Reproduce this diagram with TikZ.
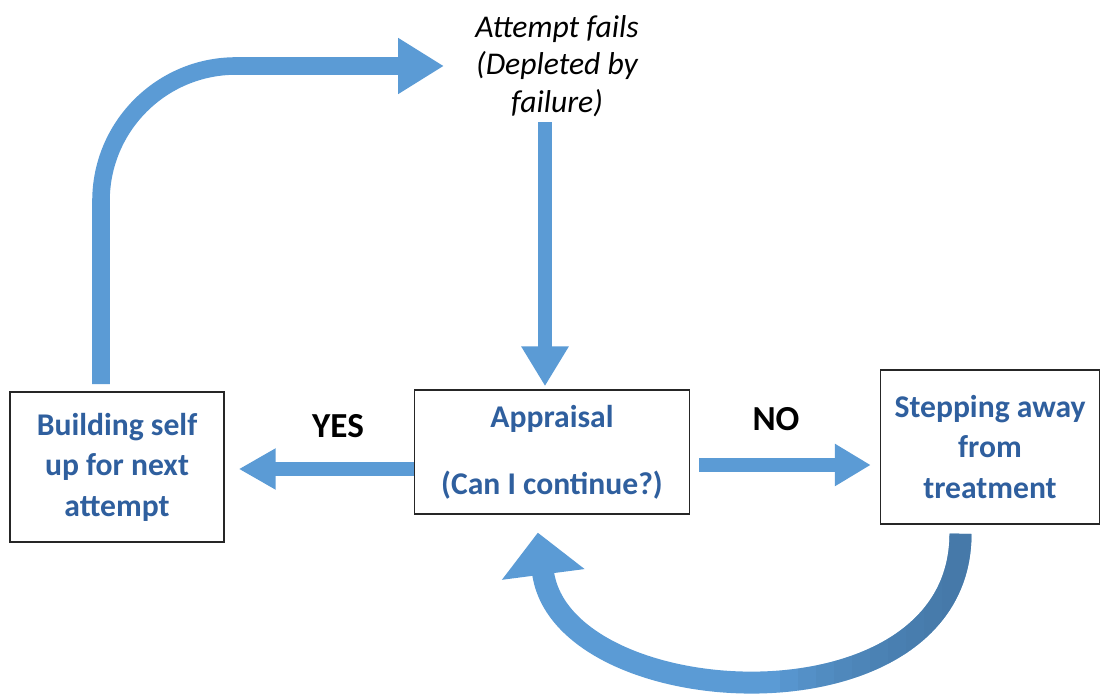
\documentclass[tikz,border=0pt]{standalone}
\usepackage{fontspec}
\setmainfont{Carlito}
\usetikzlibrary{arrows.meta,calc,positioning}
\definecolor{ArrowBlue}{HTML}{5B9BD5}
\definecolor{ArrowShade}{HTML}{41719C}
\definecolor{BoxText}{HTML}{2F5F9E}

\begin{document}
\begin{tikzpicture}[
  x=0.02cm,
  y=-0.02cm,
  stage box/.style={draw=black!85,line width=0.9pt,fill=white,align=center,
    inner sep=0pt,text=BoxText,font=\fontsize{18}{23}\selectfont\bfseries},
  fail text/.style={align=center,inner sep=0pt,
    font=\fontsize{18}{21.5}\selectfont\itshape},
  answer text/.style={font=\fontsize{20}{24}\selectfont\bfseries},
  block arrow/.style={draw=ArrowBlue,line width=8.5pt},
  return arrow/.style={line width=12.5pt,-{Triangle[length=24pt,width=46pt]},
    shorten <=0.18cm,shorten >=0.36cm},
]

\useasboundingbox (0,0) rectangle (1106,695);

% The three stages.
\node[stage box,minimum width=4.28cm,minimum height=3.0cm] (building)
  at (117,467) {Building self\\up for next\\attempt};
\node[stage box,minimum width=5.5cm,minimum height=2.48cm] (appraisal)
  at (552,452) {Appraisal\\[15pt](Can I continue?)};
\node[stage box,minimum width=4.38cm,minimum height=3.08cm] (stepping)
  at (990,447) {Stepping away\\from\\treatment};

% Outcome of the attempt and the two answers.
\node[fail text] (attempt) at (557,66) {Attempt fails\\(Depleted by\\failure)};
\node[answer text] (yes) at (338,426) {YES};
\node[answer text] (no) at (776,419) {NO};

% Loop back to the next attempt.
\draw[block arrow,line width=10pt,rounded corners=2.7cm,
  -{Triangle[length=26pt,width=30pt]},shorten <=0.14cm,shorten >=0.62cm]
  ([xshift=-0.32cm]building.north) |- (attempt.west);
\draw[block arrow,-{Triangle[length=22.7pt,width=25.5pt]},shorten <=0.1cm,
  shorten >=0.06cm]
  ([xshift=-0.24cm]attempt.south) -- ([xshift=-0.24cm]attempt.south |- appraisal.north);

% Answers.
\draw[block arrow,-{Triangle[length=21pt,width=22pt]},shorten >=0.28cm]
  ([yshift=-0.34cm]appraisal.west) -- ([yshift=-0.34cm]appraisal.west -| building.east);
\draw[block arrow,-{Triangle[length=20.4pt,width=22.7pt]},shorten <=0.18cm,
  shorten >=0.18cm]
  ([yshift=-0.26cm]appraisal.east) -- ([yshift=-0.26cm]appraisal.east -| stepping.west);

% Return from stepping away, darker towards its start.
\draw[block arrow,return arrow]
  ([xshift=-0.59cm]stepping.south) .. controls +(0,212) and +(26,200)
  .. ([xshift=-0.33cm]appraisal.south);
\foreach \k in {0,...,9} {
  \begin{scope}
    \clip ({780+\k*18},500) rectangle (1010,700);
    \draw[return arrow,draw=ArrowShade,opacity=0.12]
      ([xshift=-0.59cm]stepping.south) .. controls +(0,212) and +(26,200)
      .. ([xshift=-0.33cm]appraisal.south);
  \end{scope}
}

\end{tikzpicture}
\end{document}
